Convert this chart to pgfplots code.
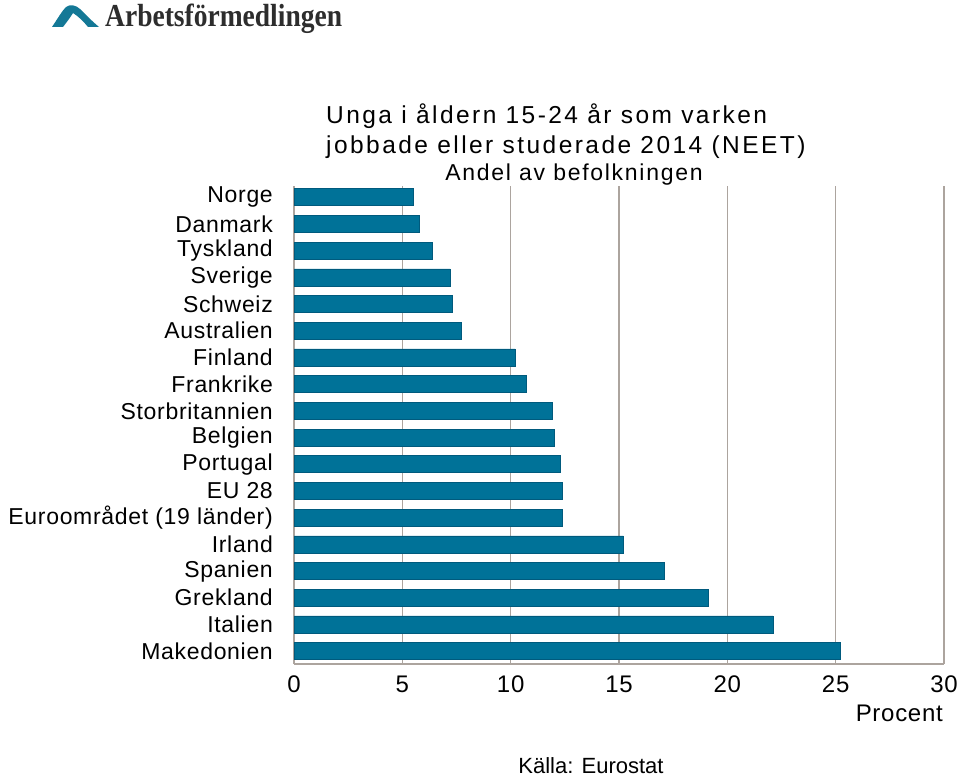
\documentclass[border=0pt]{standalone}
\usepackage{pgfplots}
\pgfplotsset{compat=1.18}
\usepackage{fontspec}
\setmainfont{Liberation Sans}
\newfontfamily\logofont{Liberation Serif}
\newfontfamily\titlefont[LetterSpace=10]{Liberation Sans}
\newfontfamily\subfont[LetterSpace=7.5]{Liberation Sans}
\newfontfamily\labfont[LetterSpace=3]{Liberation Sans}
\definecolor{barblue}{RGB}{0,114,152}
\definecolor{baredge}{RGB}{0,90,125}
\definecolor{gridc}{RGB}{172,164,158}
\definecolor{logoblue}{RGB}{20,120,150}
\definecolor{logotext}{RGB}{45,45,45}
\begin{document}
\begin{tikzpicture}[x=1pt,y=1pt]
\useasboundingbox (0,0) rectangle (960,778);
% logo
\fill[logoblue] (52,751) .. controls (58,760) and (62,767) .. (66,771) .. controls (70,774) and (76,773) .. (80,769) .. controls (86,763) and (93,756) .. (99,751) -- (88,751) .. controls (84,756) and (78,762) .. (73,765) .. controls (70,760) and (66,755) .. (63,751) -- cycle;
\node[anchor=base west, inner sep=0pt, font=\logofont\bfseries\fontsize{32}{34}\selectfont, text=logotext, xscale=0.86] at (105,751) {Arbetsförmedlingen};
% titles
\node[anchor=west, inner sep=0pt, font=\titlefont\fontsize{24.5}{28}\selectfont] at (326,662) {Unga i åldern 15-24 år som varken};
\node[anchor=west, inner sep=0pt, font=\titlefont\fontsize{24.5}{28}\selectfont] at (326,631) {jobbade eller studerade 2014 (NEET)};
\node[inner sep=0pt, font=\subfont\fontsize{23}{26}\selectfont] at (574,603) {Andel av befolkningen};
\begin{axis}[
  at={(294pt,114pt)}, anchor=south west,
  width=650pt, height=478pt, scale only axis,
  xmin=0, xmax=30, xtick={0,5,...,30},
  ymin=-0.48, ymax=17.42,
  ytick={0,...,17},
  yticklabels={Makedonien,Italien,Grekland,Spanien,Irland,Euroområdet (19 länder),EU 28,Portugal,Belgien,Storbritannien,Frankrike,Finland,Australien,Schweiz,Sverige,Tyskland,Danmark,Norge},
  xbar, bar width=17pt,
  axis x line*=bottom, axis y line*=left,
  axis line style={draw=gridc, line width=1.2pt, -},
  xmajorgrids, grid style={draw=gridc, line width=1.2pt},
  major tick length=0pt,
  /pgf/number format/assume math mode=true,
  xticklabel style={font=\labfont\fontsize{24}{26}\selectfont, inner sep=0pt, yshift=-12pt},
  yticklabel style={font=\labfont\fontsize{23}{25}\selectfont, inner sep=0pt, xshift=-21pt},
  clip=false,
]
\addplot[fill=barblue, draw=baredge, line width=0.6pt] coordinates {
(25.2,0) (22.1,1) (19.1,2) (17.1,3) (15.2,4) (12.4,5) (12.4,6) (12.3,7) (12.0,8) (11.9,9) (10.7,10) (10.2,11) (7.7,12) (7.3,13) (7.2,14) (6.4,15) (5.8,16) (5.5,17)
};
\end{axis}
\node[anchor=east, inner sep=0pt, font=\labfont\fontsize{24}{26}\selectfont] at (943,65) {Procent};
\node[inner sep=0pt, font=\fontsize{22}{24}\selectfont] at (591,12) {Källa: Eurostat};
\end{tikzpicture}
\end{document}
